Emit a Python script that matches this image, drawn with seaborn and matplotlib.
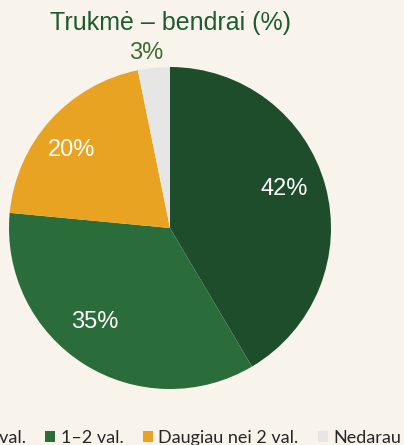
import numpy as np
import pandas as pd
import matplotlib.pyplot as plt
import seaborn as sns

categories = ["Iki 1 val.", "1–2 val.", "Daugiau nei 2 val.", "Nedarau"]
shares = [41.5, 35.0, 20.3, 3.2]
colors = ["#1e4d2b", "#2b6c3b", "#e8a323", "#e6e6e4"]

# where the percent labels sit (in pie radius units)
label_pos = [(0.711, 0.245), (-0.469, -0.581), (-0.609, 0.484), (-0.149, 1.09)]

bg = "#f8f4ec"
sns.set_theme(style="white", rc={"figure.facecolor": bg, "axes.facecolor": bg})
plt.rcParams["font.family"] = ["Liberation Sans", "DejaVu Sans"]

fig = plt.figure(figsize=(4.04, 4.45), dpi=100)
ax = fig.add_axes([9 / 404, 56 / 445, 322 / 404, 322 / 445])

wedges, texts, autotexts = ax.pie(
    shares, colors=colors, startangle=90, counterclock=False,
    autopct=lambda p: "%d%%" % round(p), pctdistance=0.76, radius=1,
    wedgeprops={"linewidth": 0, "edgecolor": "none"},
    textprops={"color": "white", "fontsize": 17},
)
for t, pos in zip(autotexts, label_pos):
    t.set_position(pos)
# small slice gets its label outside
autotexts[3].set_color("#3d6b33")

ax.set_xlim(-1, 1)
ax.set_ylim(-1, 1)
ax.set_aspect("equal")
ax.axis("off")

fig.text(170 / 404, 1 - 30 / 445, "Trukmė – bendrai (%)", ha="center", va="baseline",
         fontsize=18, color="#1f5a30")

leg_y = 1 - 438 / 445
leg = fig.legend(wedges, categories, loc="center", bbox_to_anchor=(0.5, leg_y),
                 ncol=4, frameon=False, prop={"family": "Lato", "size": 13},
                 handlelength=0.55, handleheight=0.55, handletextpad=0.33,
                 columnspacing=1.05, borderpad=0)

# shift the legend so the second entry starts where it does in the original
fig.canvas.draw()
x0 = leg.legend_handles[1].get_window_extent().x0
shift = (45 - x0) / 404
leg.set_bbox_to_anchor((0.5 + shift, leg_y), transform=fig.transFigure)

fig.savefig("out.png", dpi=100, facecolor=bg)
